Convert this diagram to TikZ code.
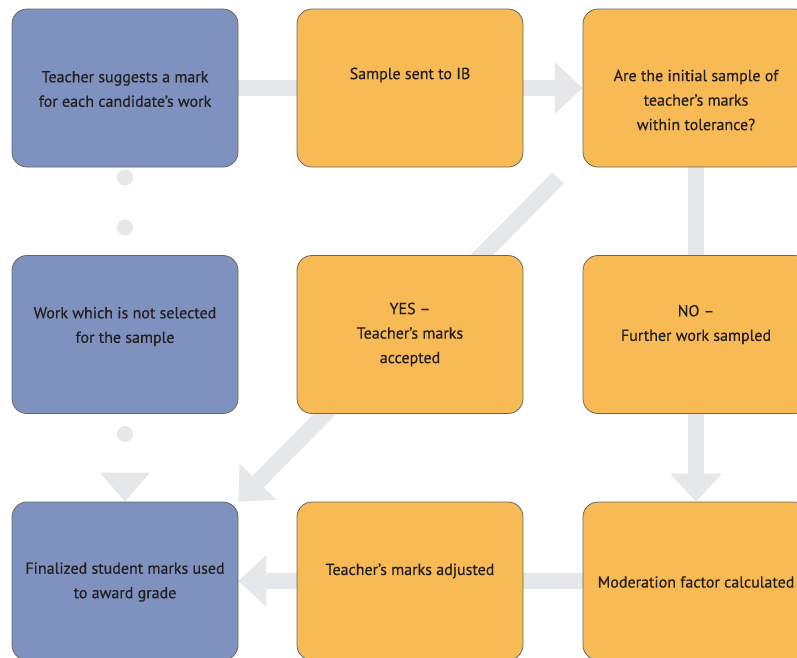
\documentclass[tikz,border=0pt]{standalone}
\usepackage{fontspec}
\setmainfont{PT Sans}
\newfontfamily\fuenteib[FakeBold=0.5]{PT Sans}
\usetikzlibrary{arrows.meta,backgrounds}

\definecolor{azulib}{HTML}{7F92BF}
\definecolor{naranjaib}{HTML}{F8BA54}
\definecolor{grisflecha}{HTML}{E6E7E8}
\definecolor{bordecaja}{HTML}{666666}
\definecolor{textocaja}{HTML}{231F20}

\tikzset{
    caja/.style={draw=bordecaja, line width=0.8pt, rounded corners=15pt,
        minimum width=226pt, minimum height=158pt, inner sep=0pt},
    caja azul/.style={caja, fill=azulib},
    caja naranja/.style={caja, fill=naranjaib},
    texto/.style={align=center, text=textocaja,
        font=\fuenteib\fontsize{16}{24.5}\selectfont},
    barra/.style={draw=grisflecha, line width=16pt},
    flecha/.style={barra, -{Triangle[length=28pt,width=52pt,line width=0pt]}},
    punteado/.style={draw=grisflecha, line width=16pt, line cap=round,
        dash pattern=on 0pt off 50pt}
}

\begin{document}
\begin{tikzpicture}[x=1pt, y=-1pt]
        \path[use as bounding box, clip] (0,0) rectangle (797,657);

        % Cajas de la primera fila.
        \node[caja azul]    (sugiere)    at (125,88) {};
        \node[caja naranja] (muestra)    at (410,88) {};
        \node[caja naranja] (tolerancia) at (696,88) {};

        % Cajas de la segunda fila.
        \node[caja azul]    (trabajo) at (125,334.5) {};
        \node[caja naranja] (si)      at (410,334.5) {};
        \node[caja naranja] (no)      at (696,334.5) {};

        % Cajas de la tercera fila.
        \node[caja azul]    (final)  at (125,581) {};
        \node[caja naranja] (ajuste) at (410,581) {};
        \node[caja naranja] (factor) at (696,581) {};

        % Textos de cada caja.
        \node[texto] (t-sugiere) at ([yshift=-1pt]sugiere.center)
            {Teacher suggests a mark\\for each candidate’s work};
        \node[texto] (t-muestra) at ([yshift=13pt]muestra.center)
            {Sample sent to IB};
        \node[texto] (t-tolerancia) at ([yshift=-12pt]tolerancia.center)
            {Are the initial sample of\\teacher’s marks\\within tolerance?};
        \node[texto] (t-trabajo) at ([yshift=8pt]trabajo.center)
            {Work which is not selected\\for the sample};
        \node[texto] (t-si) at (si.center)
            {YES –\\Teacher’s marks\\accepted};
        \node[texto] (t-no) at ([yshift=10pt]no.center)
            {NO –\\Further work sampled};
        \node[texto] (t-final) at ([yshift=-1pt]final.center)
            {Finalized student marks used\\to award grade};
        \node[texto] (t-ajuste) at ([yshift=10pt]ajuste.center)
            {Teacher’s marks adjusted};
        \node[texto] (t-factor) at ([yshift=-1pt]factor.center)
            {Moderation factor calculated};

        % Flechas grises detras de las cajas.
        \begin{scope}[on background layer]
            \draw[barra]  (sugiere) -- (muestra);
            \draw[flecha] (muestra) -- (tolerancia);
            \draw[barra]  (tolerancia) -- (no);
            \draw[flecha] (no) -- (factor);
            \draw[barra]  (factor) -- (ajuste);
            \draw[flecha] (ajuste) -- (final);

            % Diagonal de la respuesta afirmativa.
            \coordinate (diag) at (558,178);
            \draw[flecha] (diag) -- (final.north east);

            % Trabajo no seleccionado (puntos).
            \draw[punteado, dash phase=40pt] (sugiere) -- (trabajo);
            \draw[punteado, dash phase=30pt,
                -{Triangle[length=29pt,width=50pt,line width=0pt]}]
                (trabajo) -- (final);
        \end{scope}
    \end{tikzpicture}
\end{document}
